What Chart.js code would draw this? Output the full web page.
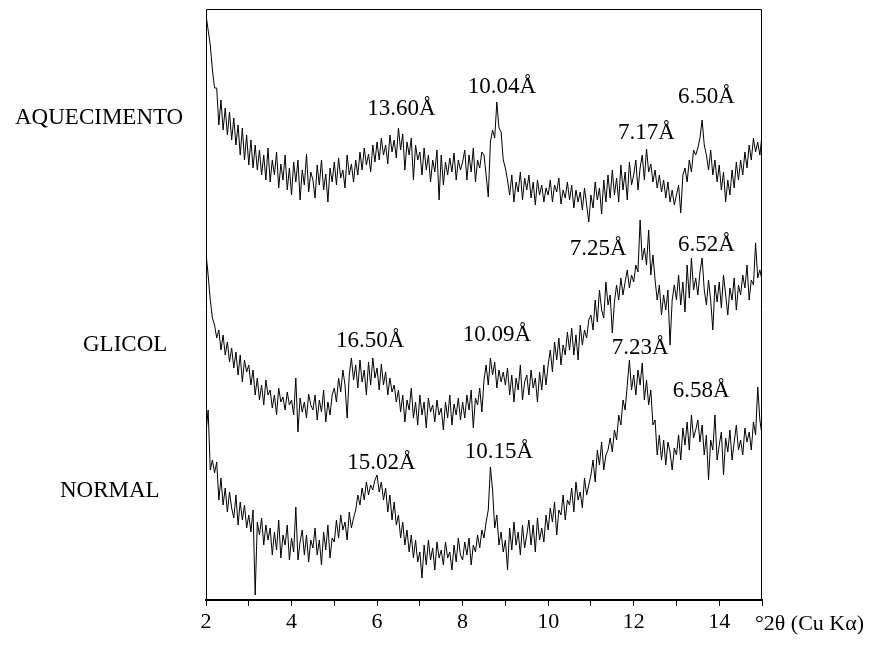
<!DOCTYPE html>
<html>
<head>
<meta charset="utf-8">
<script src="https://cdn.jsdelivr.net/npm/chart.js@4.4.0/dist/chart.umd.min.js"></script>
<style>
  html, body { margin: 0; padding: 0; background: #fff; }
  #wrap { width: 879px; height: 650px; }
</style>
</head>
<body>
<div id="wrap"><canvas id="xrd" width="879" height="650"></canvas></div>
<script>
// 2theta sampling of the patterns
var thetaStart = 2;
var thetaStep = 0.05;
var xTicks = [2, 4, 6, 8, 10, 12, 14];

// intensities (arbitrary units, curves already offset), one value every 0.05 deg
var aquecimento = [
  585, 570, 555, 530, 512, 512, 475, 500, 470, 492,
  465, 488, 460, 482, 455, 475, 445, 472, 440, 465,
  435, 460, 432, 455, 430, 450, 425, 445, 420, 452,
  418, 440, 425, 448, 412, 436, 420, 445, 410, 432,
  405, 438, 418, 440, 400, 430, 415, 446, 408, 428,
  420, 402, 435, 415, 440, 410, 426, 398, 432, 418,
  438, 415, 442, 422, 430, 412, 445, 425, 436, 418,
  440, 425, 448, 430, 452, 435, 446, 428, 455, 438,
  458, 440, 462, 445, 455, 436, 465, 448, 460, 442,
  472, 450, 466, 430, 458, 445, 462, 420, 455, 440,
  448, 425, 452, 430, 445, 418, 440, 428, 450, 400,
  445, 415, 438, 425, 442, 428, 447, 420, 440, 430,
  438, 450, 420, 445, 428, 452, 418, 440, 432, 448,
  445, 425, 403, 458, 470, 462, 498, 472, 468, 440,
  432, 420, 405, 425, 398, 418, 408, 428, 400, 422,
  410, 425, 402, 418, 395, 420, 405, 415, 398, 412,
  405, 420, 398, 415, 408, 422, 396, 410, 402, 418,
  400, 415, 392, 410, 398, 408, 390, 412, 395, 378,
  405, 392, 418, 400, 412, 386, 420, 398, 425, 402,
  430, 405, 422, 398, 435, 410, 428, 400, 438, 415,
  425, 440, 410, 432, 445, 420, 451, 428, 436, 418,
  430, 412, 425, 408, 420, 402, 418, 398, 410, 395,
  405, 415, 387, 425, 432, 418, 440, 428, 450, 445,
  452, 462, 480, 455, 445, 430, 450, 425, 440, 418,
  435, 410, 428, 398, 420, 405, 430, 412, 438, 420,
  440, 425, 448, 432, 455, 440, 462, 448, 458, 445,
  465
];
var glicol = [
  347, 325, 300, 282, 275, 262, 270, 250, 265, 245,
  258, 238, 252, 232, 248, 225, 245, 218, 240, 228,
  235, 215, 230, 205, 222, 200, 215, 195, 220, 205,
  210, 192, 205, 185, 212, 198, 203, 190, 208, 195,
  200, 185, 222, 168, 202, 188, 198, 182, 206, 195,
  190, 205, 180, 200, 188, 210, 178, 198, 185, 205,
  212, 198, 222, 208, 230, 215, 182, 225, 242, 220,
  235, 212, 240, 218, 230, 205, 238, 215, 242, 222,
  232, 210, 236, 215, 228, 205, 222, 208, 215, 198,
  210, 188, 205, 178, 200, 190, 212, 182, 198, 175,
  205, 185, 198, 172, 202, 188, 195, 178, 200, 185,
  192, 170, 198, 182, 205, 175, 196, 185, 202, 180,
  198, 182, 205, 190, 210, 172, 202, 195, 212, 188,
  220, 235, 215, 242, 225, 238, 212, 230, 218, 228,
  215, 232, 205, 225, 198, 222, 210, 235, 200, 218,
  225, 205, 230, 212, 222, 198, 228, 210, 235, 215,
  235, 250, 228, 258, 240, 262, 235, 255, 245, 268,
  250, 272, 245, 265, 240, 275, 255, 270, 262, 280,
  285, 270, 300, 278, 310, 290, 282, 318, 295, 305,
  267, 298, 315, 300, 322, 305, 318, 330, 312, 325,
  318, 335, 328, 380, 340, 352, 335, 370, 325, 345,
  320, 300, 315, 285, 305, 290, 310, 255, 300, 315,
  300, 325, 295, 318, 288, 335, 302, 342, 310, 322,
  305, 328, 342, 310, 295, 320, 300, 270, 315, 298,
  318, 292, 325, 305, 285, 312, 300, 322, 290, 315,
  305, 325, 312, 335, 300, 320, 315, 357, 322, 330,
  320
];
var normal = [
  167, 190, 130, 140, 127, 138, 100, 122, 95, 112,
  88, 108, 92, 82, 105, 75, 98, 80, 95, 72,
  85, 68, 90, 5, 78, 65, 82, 55, 75, 60,
  72, 45, 68, 50, 80, 42, 65, 55, 75, 40,
  62, 48, 93, 40, 58, 70, 45, 65, 38, 60,
  52, 72, 45, 60, 35, 68, 50, 75, 42, 62,
  58, 80, 62, 85, 70, 78, 60, 88, 72, 82,
  90, 105, 95, 112, 100, 118, 105, 115, 110, 120,
  125, 108, 118, 100, 112, 88, 105, 80, 98, 75,
  85, 62, 78, 55, 70, 48, 65, 42, 60, 38,
  48, 22, 55, 35, 60, 40, 52, 30, 58, 42,
  50, 35, 58, 42, 48, 30, 55, 38, 62, 45,
  40, 58, 45, 62, 35, 55, 48, 65, 52, 70,
  62, 78, 90, 133, 110, 72, 85, 55, 68, 48,
  60, 30, 72, 50, 78, 55, 68, 45, 75, 52,
  65, 80, 55, 75, 48, 82, 60, 72, 58, 85,
  70, 92, 78, 98, 65, 90, 85, 105, 80, 100,
  95, 112, 88, 118, 100, 108, 92, 122, 105, 115,
  125, 140, 118, 150, 135, 158, 130, 145, 150, 162,
  148, 170, 160, 185, 175, 200, 190, 215, 240, 210,
  225, 205, 230, 215, 237, 200, 220, 195, 210, 175,
  180, 145, 165, 140, 160, 135, 158, 148, 130, 152,
  145, 165, 140, 172, 155, 178, 150, 185, 162, 170,
  180, 158, 175, 145, 165, 120, 160, 150, 185, 140,
  155, 168, 125, 162, 148, 170, 140, 158, 175, 150,
  160, 145, 172, 158, 168, 150, 178, 165, 213, 180,
  165
];

// peak labels: d-spacing text, 2theta, intensity level of the text baseline
var peakText = ['13.60Å', '10.04Å', '7.17Å', '6.50Å',
                '16.50Å', '10.09Å', '7.25Å', '6.52Å',
                '15.02Å', '10.15Å', '7.23Å', '6.58Å'];
var peakTheta = [6.57, 8.92, 12.30, 13.70,
                 5.84, 8.80, 11.17, 13.70,
                 6.10, 8.85, 12.15, 13.58];
var peakLevel = [485, 507, 461, 497,
                 253, 259, 345, 349,
                 131, 142, 246, 203];

var curveNames = ['AQUECIMENTO', 'GLICOL', 'NORMAL'];
var curveLevel = [476, 249, 103];

var thetaValues = [];
for (var i = 0; i < aquecimento.length; i++) {
    thetaValues.push(thetaStart + i * thetaStep);
}

function toPoints(arr) {
    return arr.map(function (v, i) { return { x: thetaValues[i], y: v }; });
}

var serif = '"Liberation Serif", "Times New Roman", serif';

var decor = {
    id: 'decor',
    afterDraw: function (chart) {
        var ctx = chart.ctx;
        var area = chart.chartArea;
        var xs = chart.scales.x;
        var ys = chart.scales.y;
        ctx.save();
        // frame
        ctx.strokeStyle = '#000';
        ctx.lineWidth = 1;
        ctx.beginPath();
        ctx.moveTo(area.left + 0.5, area.bottom);
        ctx.lineTo(area.left + 0.5, area.top + 0.5);
        ctx.lineTo(area.right - 0.5, area.top + 0.5);
        ctx.lineTo(area.right - 0.5, area.bottom);
        ctx.stroke();

        ctx.fillStyle = '#000';
        ctx.font = '23px ' + serif;
        ctx.textBaseline = 'alphabetic';
        // peak d-spacings
        ctx.textAlign = 'center';
        for (var i = 0; i < peakText.length; i++) {
            ctx.fillText(peakText[i], xs.getPixelForValue(peakTheta[i]), ys.getPixelForValue(peakLevel[i]));
        }
        // curve names
        ctx.textAlign = 'left';
        var nameX = [15, 83, 60];
        for (var j = 0; j < curveNames.length; j++) {
            ctx.fillText(curveNames[j], nameX[j], ys.getPixelForValue(curveLevel[j]));
        }
        // axis title
        ctx.font = '22px ' + serif;
        ctx.fillText('°2θ (Cu Kα)', area.right - 7, area.bottom + 30);
        ctx.restore();
    }
};

new Chart(document.getElementById('xrd'), {
    type: 'line',
    data: {
        datasets: [
            { label: 'AQUECIMENTO', data: toPoints(aquecimento) },
            { label: 'GLICOL', data: toPoints(glicol) },
            { label: 'NORMAL', data: toPoints(normal) }
        ].map(function (d) {
            d.borderColor = '#000';
            d.borderWidth = 1;
            d.pointRadius = 0;
            d.tension = 0;
            d.fill = false;
            return d;
        })
    },
    options: {
        responsive: false,
        animation: false,
        layout: { padding: { left: 206, right: 117, top: 9, bottom: 0 } },
        plugins: { legend: { display: false }, tooltip: { enabled: false } },
        scales: {
            x: {
                type: 'linear',
                min: 2,
                max: 15,
                afterFit: function (scale) { scale.height = 50; },
                afterBuildTicks: function (scale) {
                    var t = [];
                    for (var v = 2; v <= 15; v++) t.push({ value: v });
                    scale.ticks = t;
                },
                ticks: {
                    autoSkip: false,
                    maxRotation: 0,
                    padding: 3,
                    color: '#000',
                    font: { family: serif, size: 22 },
                    callback: function (v) { return xTicks.indexOf(v) >= 0 ? String(v) : ''; }
                },
                grid: {
                    drawOnChartArea: false,
                    drawTicks: true,
                    tickLength: 6,
                    color: '#000',
                    tickColor: '#000'
                },
                border: { display: true, color: '#000', width: 2 }
            },
            y: {
                display: false,
                min: 0,
                max: 591
            }
        }
    },
    plugins: [decor]
});
</script>
</body>
</html>
